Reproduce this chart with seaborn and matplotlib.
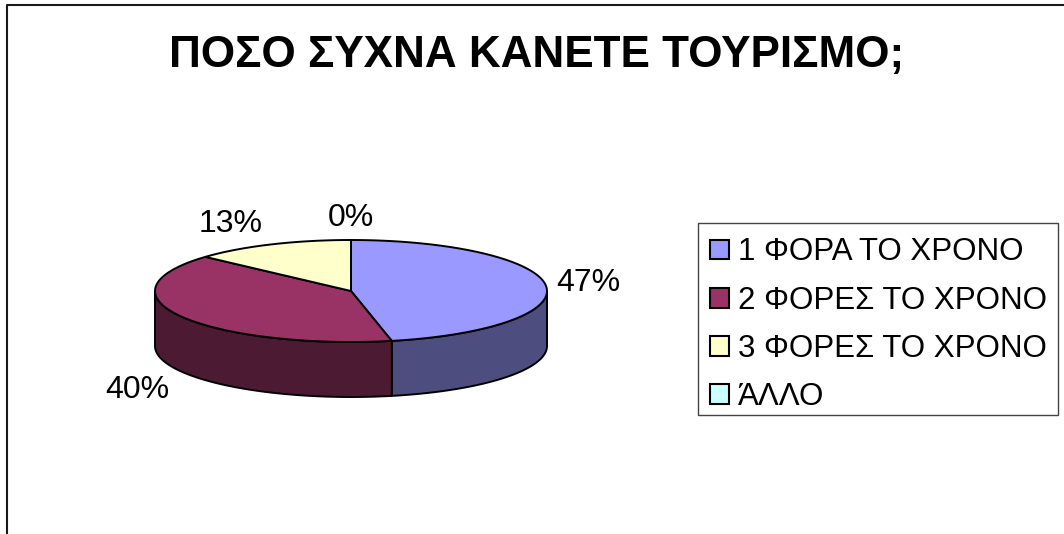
import numpy as np
import matplotlib
matplotlib.use("Agg")
import matplotlib.pyplot as plt
from matplotlib.patches import Patch, Polygon, Rectangle
import seaborn as sns

# --- DATA ---
TITLE = "ΠΟΣΟ ΣΥΧΝΑ ΚΑΝΕΤΕ ΤΟΥΡΙΣΜΟ;"
categories = ["1 ΦΟΡΑ ΤΟ ΧΡΟΝΟ", "2 ΦΟΡΕΣ ΤΟ ΧΡΟΝΟ", "3 ΦΟΡΕΣ ΤΟ ΧΡΟΝΟ", "ΆΛΛΟ"]
counts = [7, 6, 2, 0]  # the shown 47/40/13/0 % fit these answer counts
colors = ["#9999FF", "#993366", "#FFFFCC", "#CCFFFF"]
side_colors = ["#4D4D80", "#4D1A33", "#808066", "#668080"]

sns.set_style("white")
plt.rcParams['font.family'] = ['Liberation Sans', 'DejaVu Sans']

# pie geometry in pixels of the 1064x534 picture
CX, CY, RX, RY = 351, 291, 196, 51
DEPTH = 55

fig = plt.figure(figsize=(10.64, 5.34), dpi=100)
ax = fig.add_axes([0, 0, 1, 1])
ax.set_xlim(0, 1064)
ax.set_ylim(534, 0)
ax.axis("off")

# chart frame, only left and top edges are in the crop
ax.plot([6.5, 6.5, 1064], [534, 5, 5], color="#1a1a1a", lw=1.5)


def rim(a0, a1, n=80):
    t = np.radians(np.linspace(a0, a1, n))
    return CX + RX * np.sin(t), CY - RY * np.cos(t)


# angles clockwise from the top
edges = np.cumsum([0] + counts) * 360 / sum(counts)

# side walls first, only the front half (90..270 deg) can be seen
for i in range(len(counts)):
    a0, a1 = max(edges[i], 90), min(edges[i + 1], 270)
    if a1 <= a0:
        continue
    x, y = rim(a0, a1)
    px = np.r_[x, x[::-1]]
    py = np.r_[y, y[::-1] + DEPTH]
    ax.add_patch(Polygon(np.c_[px, py], closed=True, fc=side_colors[i], ec="black", lw=1.4))

# top faces
for i in range(len(counts)):
    if counts[i] == 0:
        continue
    x, y = rim(edges[i], edges[i + 1])
    ax.add_patch(Polygon(np.c_[np.r_[CX, x], np.r_[CY, y]], closed=True, fc=colors[i], ec="black", lw=1.4))

ax.text(537, 67, TITLE, fontsize=31.7, fontweight="bold", ha="center", va="baseline", color="black")

# percent labels
label_pos = [(588, 283), (137, 390), (231, 224), (351, 218)]
for c, (lx, ly) in zip(counts, label_pos):
    ax.text(lx, ly, f"{round(100 * c / sum(counts))}%", fontsize=23, ha="center", va="center", color="black")

# legend box drawn apart, matplotlib leaves too much room under the last row
ax.add_patch(Rectangle((698, 223), 360, 192, fc="white", ec="#444444", lw=1.0))
handles = [Patch(fc=c, ec="black", lw=1.5) for c in colors]
leg = ax.legend(handles, categories, loc="upper left",
                bbox_to_anchor=(710 / 1064, 1 - 237.5 / 534), bbox_transform=fig.transFigure,
                fontsize=22.5, frameon=False, labelcolor="black",
                handlelength=0.6, handleheight=0.6, handletextpad=0.3, labelspacing=0.58,
                borderpad=0, borderaxespad=0)

fig.savefig("out.png", dpi=100, facecolor="white")
